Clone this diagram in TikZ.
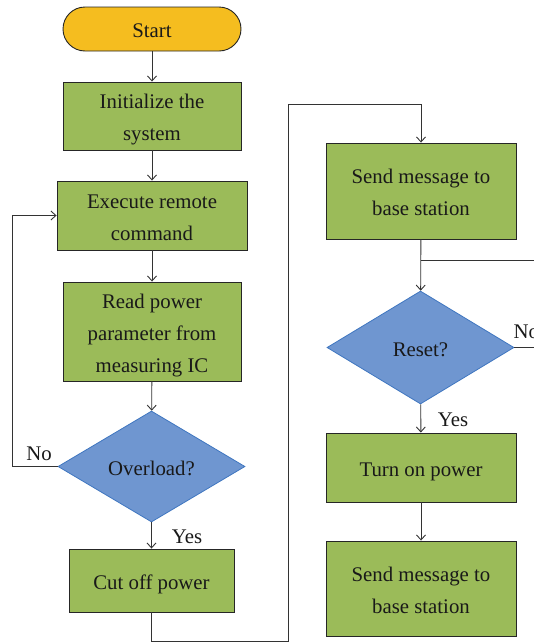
\documentclass[tikz,border=0pt]{standalone}
\usepackage{fontspec}
\setmainfont{Liberation Serif}
\usetikzlibrary{shapes.geometric,arrows.meta}
\definecolor{boxgreen}{HTML}{9BBB59}
\definecolor{dblue}{HTML}{6F96D0}
\definecolor{dblueb}{HTML}{3F76C0}
\definecolor{startyel}{HTML}{F5BD1F}
\newcommand{\tx}[1]{\raisebox{-2.5pt}[\height][\depth]{\begin{tabular}{@{}c@{}}#1\end{tabular}}}
\tikzset{
  lbl/.style={font=\fontsize{20.8}{32}\selectfont, text=black!90},
  procbox/.style={draw=black!85, line width=0.9pt, fill=boxgreen, align=center, inner sep=0pt, lbl},
  decbox/.style={diamond, draw=dblueb, line width=0.8pt, fill=dblue, align=center, inner sep=0pt, lbl},
  startbox/.style={draw=black!85, line width=0.9pt, fill=startyel, rounded corners=22pt, align=center, inner sep=0pt, lbl},
  conn/.style={draw=black!80, line width=0.9pt},
  arr/.style={conn, -{Straight Barb[length=5pt,width=9pt,line width=0.9pt]}},
}
\begin{document}
\begin{tikzpicture}[x=1pt,y=-1pt]
\useasboundingbox (0,0) rectangle (534,643);
\node[startbox, minimum width=178pt, minimum height=44pt] (start) at (152,29) {\tx{Start}};
\node[procbox, minimum width=178pt, minimum height=68pt] (init) at (152,116) {\tx{Initialize the\\system}};
\node[procbox, minimum width=190pt, minimum height=69pt] (exec) at (152,215.5) {\tx{Execute remote\\command}};
\node[procbox, minimum width=178pt, minimum height=99pt] (read) at (152,331.5) {\tx{Read power\\parameter from\\measuring IC}};
\node[decbox, minimum width=187pt, minimum height=111pt, aspect=1.68] (over) at (151.5,466.5) {\tx{Overload?}};
\node[procbox, minimum width=165pt, minimum height=63pt] (cut) at (151.5,580.5) {\tx{Cut off power}};
\node[procbox, minimum width=190pt, minimum height=96pt] (send1) at (421,191) {\tx{Send message to\\base station}};
\node[decbox, minimum width=187pt, minimum height=113pt, aspect=1.65] (reset) at (420.5,347.5) {\tx{Reset?}};
\node[procbox, minimum width=190pt, minimum height=69pt] (turn) at (421,467.5) {\tx{Turn on power}};
\node[procbox, minimum width=190pt, minimum height=95pt] (send2) at (421,588.5) {\tx{Send message to\\base station}};

\coordinate (loopL) at (12,466.5);
\coordinate (botL) at (151.5,641);
\coordinate (botR) at (288,641);
\coordinate (topR) at (288,104);
\coordinate (branch) at (421,260);
\coordinate (edge1) at (534,260);
\coordinate (edge2) at (534,347.5);

\draw[arr] (start) -- (init);
\draw[arr] (init) -- (exec);
\draw[arr] (exec) -- (read);
\draw[arr] (read) -- (over);
\draw[arr] (over) -- (cut);
\draw[arr] (over.west) -- (loopL) |- (exec.west);
\draw[arr] (cut.south) -- (botL) -- (botR) -- (topR) -| (send1.north);
\draw[arr] (send1) -- (reset);
\draw[conn] (branch) -- (edge1);
\draw[conn] (reset.east) -- (edge2);
\draw[arr] (reset) -- (turn);
\draw[arr] (turn) -- (send2);

\node[lbl] (nol) at (39,454) {No};
\node[lbl] (yesl) at (187,537) {Yes};
\node[lbl, anchor=west] (nor) at (510,332) {No};
\node[lbl] (yesr) at (453,420) {Yes};
\end{tikzpicture}
\end{document}
